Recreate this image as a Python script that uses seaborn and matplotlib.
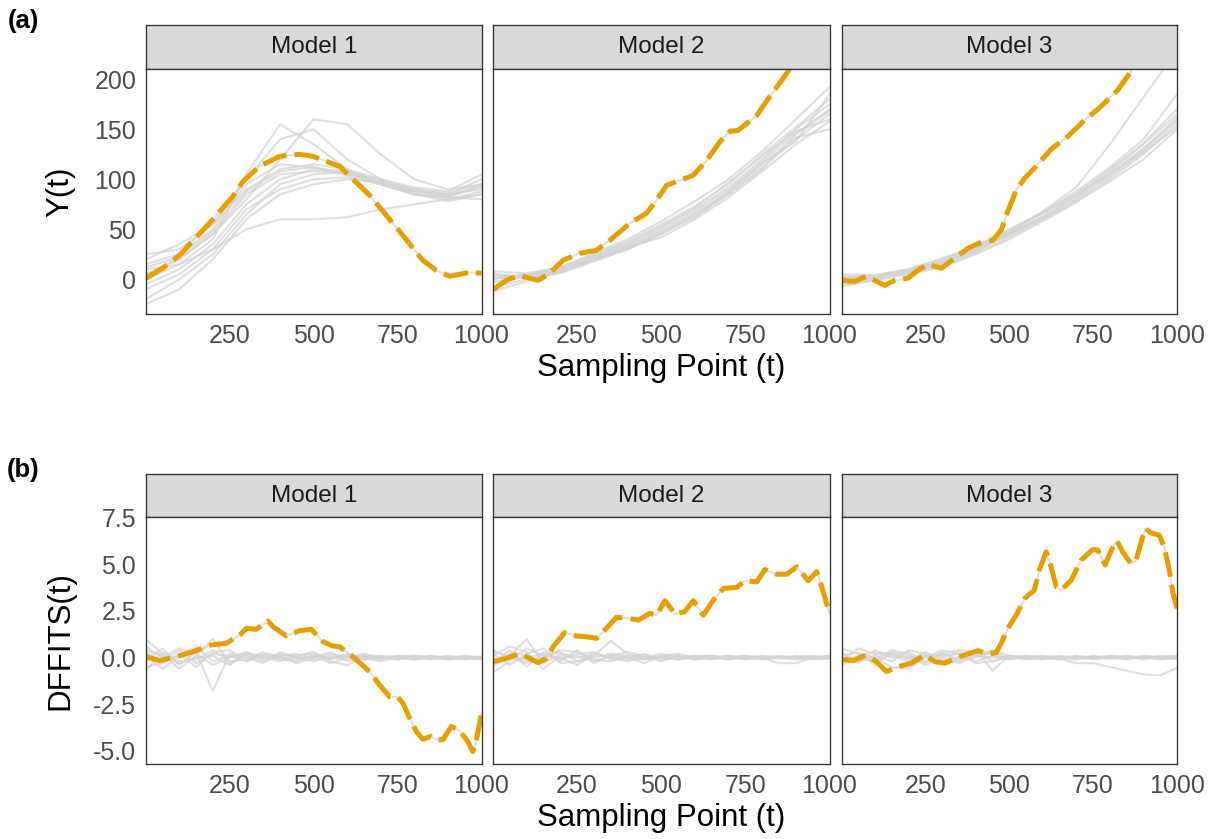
import numpy as np
import pandas as pd
import matplotlib
matplotlib.use("Agg")
import matplotlib.pyplot as plt
import seaborn as sns

# ---------------- data ----------------
models = ["Model 1", "Model 2", "Model 3"]
x_ticks = [250, 500, 750, 1000]
y_ticks_a = [0, 50, 100, 150, 200]
y_ticks_b = [-5.0, -2.5, 0.0, 2.5, 5.0, 7.5]

# grids for the grey reference curves
grid_a = [0, 100, 200, 300, 400, 500, 600, 700, 800, 900, 1000]
grid_b = [0, 50, 100, 150, 200, 250, 300, 350, 400, 450, 500,
          550, 600, 650, 700, 750, 800, 850, 900, 950, 1000]

# (a) Y(t) grey curves
a1_gray = [
    [5, 20, 45, 85, 105, 108, 106, 97, 88, 83, 92],
    [-5, 10, 35, 75, 100, 110, 108, 98, 86, 80, 88],
    [15, 25, 50, 95, 115, 112, 104, 95, 85, 82, 95],
    [-20, 0, 25, 65, 95, 105, 107, 100, 90, 85, 90],
    [25, 30, 55, 100, 140, 150, 120, 100, 88, 85, 100],
    [0, 15, 40, 105, 155, 135, 110, 95, 85, 78, 85],
    [10, 15, 30, 50, 60, 60, 62, 70, 75, 80, 85],
    [-25, -10, 20, 60, 85, 95, 100, 98, 90, 87, 95],
    [20, 35, 55, 90, 110, 115, 110, 100, 92, 88, 105],
    [5, 20, 45, 80, 120, 160, 155, 125, 100, 90, 95],
    [-10, 5, 30, 70, 90, 100, 102, 95, 85, 82, 80],
    [12, 22, 48, 88, 108, 112, 106, 96, 88, 84, 93],
]
a2_gray = [
    [2, 3, 9, 22, 34, 50, 68, 90, 118, 146, 170],
    [-8, 0, 6, 18, 30, 45, 62, 85, 112, 140, 165],
    [8, 6, 12, 25, 38, 55, 73, 95, 125, 152, 180],
    [5, 2, 8, 20, 32, 42, 60, 82, 108, 135, 158],
    [-3, 4, 10, 24, 36, 53, 70, 92, 120, 150, 175],
    [0, 5, 12, 26, 40, 58, 78, 100, 128, 160, 192],
    [6, 1, 7, 19, 30, 46, 65, 88, 115, 142, 150],
    [-12, -2, 8, 21, 33, 48, 66, 85, 110, 145, 168],
    [3, 4, 11, 23, 36, 52, 72, 97, 123, 148, 160],
    [1, 2, 9, 20, 31, 47, 63, 87, 116, 138, 185],
]
a3_gray = [
    [-2, 2, 8, 17, 29, 46, 63, 83, 106, 131, 160],
    [5, 4, 10, 20, 32, 49, 66, 86, 110, 136, 170],
    [-6, 0, 6, 14, 26, 42, 60, 80, 102, 127, 152],
    [2, 3, 7, 16, 30, 47, 68, 92, 135, 182, 229],
    [-4, 1, 9, 19, 31, 44, 60, 78, 98, 120, 150],
    [0, 3, 7, 15, 28, 45, 62, 84, 108, 135, 165],
    [3, 2, 9, 18, 27, 48, 66, 85, 105, 128, 158],
    [-7, -1, 5, 12, 25, 40, 58, 77, 100, 125, 155],
    [1, 4, 10, 21, 33, 50, 67, 88, 112, 140, 185],
    [-3, 2, 8, 17, 29, 46, 62, 81, 104, 130, 162],
]

# (a) highlighted curves
a1_t = [1, 50, 101, 195, 260, 290, 339, 399, 458, 498, 577, 667, 756, 825, 865, 905, 964, 1000]
a1_y = [1, 11, 24, 58, 83, 98, 113, 123, 125, 123, 113, 84, 48, 19, 9, 3, 7, 6]
a2_t = [1, 40, 79, 109, 134, 169, 208, 258, 307, 347, 407, 456, 486, 516, 556, 595,
        635, 675, 704, 729, 784, 823, 858, 883, 1000]
a2_y = [-10, -1, 4, 1, -1, 6, 19, 26, 29, 39, 56, 66, 79, 94, 99, 104,
        119, 138, 148, 149, 164, 183, 199, 211, 265]
a3_t = [1, 40, 74, 99, 129, 159, 198, 228, 258, 298, 337, 377, 417, 451, 476, 496,
        521, 546, 575, 625, 675, 724, 774, 823, 863, 1000]
a3_y = [-1, -2, 3, -1, -6, -1, 1, 9, 15, 11, 21, 31, 37, 39, 49, 68,
        89, 101, 111, 130, 143, 159, 173, 189, 208, 270]

# (b) DFFITS(t) grey curves
b1_gray = [
    [0.3, -0.2, 0.4, -0.3, 0.2, 0.1, -0.2, 0.1, 0.0, -0.1, 0.1, 0.0, -0.1, 0.05, 0.0, -0.05, 0.0, 0.05, 0.0, -0.05, 0.0],
    [-0.2, 0.5, -0.4, 0.3, -1.8, 0.2, 0.1, -0.2, 0.1, 0.2, -0.1, 0.0, 0.1, -0.1, 0.0, 0.1, 0.0, -0.1, 0.0, 0.05, 0.0],
    [1.0, 0.2, -0.6, 0.1, 1.0, -0.3, 0.2, 0.0, -0.2, 0.1, 0.3, -0.2, -0.4, 0.1, 0.0, -0.1, 0.1, 0.0, -0.1, 0.0, 0.05],
    [-0.5, -0.3, 0.2, -0.5, 0.3, 0.4, -0.2, 0.2, 0.1, -0.3, 0.0, 0.2, 0.1, -0.1, 0.1, 0.0, -0.1, 0.1, 0.0, -0.05, -0.1],
    [0.6, 0.0, 0.5, 0.2, -0.4, 0.0, 0.3, -0.1, 0.2, 0.0, -0.2, 0.1, 0.0, 0.1, -0.1, 0.1, 0.1, -0.05, 0.1, 0.0, 0.05],
    [-0.7, 0.3, -0.2, -0.1, 0.4, -0.2, -0.1, 0.3, -0.1, 0.1, 0.2, -0.1, 0.2, 0.0, -0.2, 0.05, -0.1, 0.0, -0.05, 0.1, 0.0],
    [0.1, -0.6, 0.1, 0.6, -0.2, 0.1, 0.0, -0.3, 0.3, 0.0, 0.0, 0.3, -0.2, 0.0, 0.1, -0.1, 0.05, 0.1, -0.1, 0.0, -0.05],
    [0.4, 0.1, -0.3, 0.0, 0.1, -0.4, 0.2, 0.1, -0.1, -0.2, 0.1, -0.3, 0.0, 0.2, 0.0, 0.05, -0.05, 0.0, 0.05, -0.1, 0.0],
]
b2_gray = [
    [-0.8, -0.2, 0.5, 0.1, 0.3, -0.2, 0.1, 0.9, 0.2, -0.1, 0.0, 0.1, -0.1, 0.0, 0.1, 0.0, -0.05, 0.05, 0.0, -0.05, 0.0],
    [0.3, 0.1, 1.0, -0.3, 0.2, 0.1, -0.2, 0.1, 0.0, -0.3, 0.1, -0.1, 0.0, 0.1, -0.1, 0.05, 0.0, -0.3, -0.3, 0.0, 0.05],
    [-0.3, 0.4, -0.5, 0.3, -0.1, 0.2, 0.3, -0.1, -0.1, 0.2, -0.1, 0.0, 0.1, -0.05, 0.0, 0.1, 0.0, 0.0, 0.05, 0.1, 0.0],
    [0.2, -0.4, 0.2, 0.5, -0.3, -0.2, 0.0, 0.2, 0.1, 0.0, 0.05, 0.1, -0.1, 0.0, 0.05, -0.05, 0.1, 0.0, -0.1, 0.0, 0.1],
    [-0.5, 0.2, -0.2, 0.0, 0.4, 0.3, -0.1, -0.2, 0.1, 0.1, 0.0, -0.1, 0.1, 0.1, 0.0, -0.1, 0.0, 0.1, 0.0, 0.05, -0.05],
    [0.1, 0.6, 0.3, -0.6, 0.1, 0.0, 0.2, 0.0, -0.2, 0.0, 0.2, 0.0, 0.0, -0.1, 0.1, 0.0, 0.05, -0.05, 0.1, 0.0, 0.0],
    [-0.1, -0.1, 0.0, 0.2, -0.2, 0.4, -0.3, 0.1, 0.3, 0.1, -0.2, 0.1, 0.05, 0.0, -0.1, 0.1, 0.0, 0.05, -0.05, 0.0, 0.1],
    [0.4, 0.0, -0.3, 0.1, 0.0, -0.4, 0.2, 0.0, 0.0, -0.1, 0.1, 0.2, 0.0, 0.05, 0.0, 0.0, -0.1, 0.0, 0.05, -0.1, -0.05],
]
b3_gray = [
    [0.5, 0.2, 0.0, -0.5, -0.6, 0.0, 0.2, 0.4, 0.3, -0.2, 0.1, 0.0, 0.05, -0.05, -0.3, -0.3, -0.5, -0.7, -0.9, -0.95, -0.55],
    [-0.2, 0.5, 0.2, 0.1, -0.2, 0.3, -0.1, 0.0, 0.4, -0.7, 0.1, 0.0, -0.1, 0.05, 0.0, -0.05, 0.1, 0.0, 0.0, 0.05, 0.0],
    [0.3, -0.3, 0.4, 0.0, 0.3, -0.2, 0.2, -0.1, 0.0, 0.3, 0.0, 0.1, 0.0, -0.1, 0.05, 0.0, -0.05, 0.05, 0.0, -0.05, 0.05],
    [-0.4, 0.0, -0.2, 0.2, -0.1, 0.0, 0.4, 0.2, -0.2, 0.1, -0.1, 0.05, 0.1, 0.0, -0.1, 0.05, 0.0, -0.1, 0.05, 0.0, -0.05],
    [0.1, 0.3, -0.4, 0.3, 0.1, -0.4, 0.0, 0.3, 0.1, 0.0, 0.05, -0.1, 0.0, 0.1, 0.0, 0.0, 0.1, 0.05, -0.1, 0.1, 0.0],
    [0.2, -0.2, 0.1, -0.2, 0.4, 0.2, -0.3, -0.2, 0.2, 0.2, -0.05, 0.0, 0.05, 0.0, 0.05, -0.1, 0.0, 0.0, 0.05, 0.0, 0.1],
    [-0.3, 0.1, 0.3, 0.2, 0.0, 0.1, 0.1, 0.2, -0.3, -0.2, 0.0, 0.1, -0.05, 0.05, -0.05, 0.1, -0.05, 0.1, 0.0, -0.1, -0.05],
    [0.0, -0.1, -0.1, 0.4, 0.2, -0.3, 0.3, -0.3, 0.1, 0.4, 0.1, -0.05, 0.0, -0.05, 0.1, 0.0, 0.05, -0.05, 0.1, 0.05, 0.1],
]

# (b) highlighted curves
b1_t = [1, 42, 91, 141, 195, 240, 280, 300, 329, 364, 379, 419, 458, 493, 528, 557, 577, 617,
        667, 696, 726, 751, 766, 786, 806, 825, 850, 865, 885, 910, 934, 959, 974, 982, 1000]
b1_y = [0.05, -0.16, 0.05, 0.32, 0.68, 0.77, 1.21, 1.57, 1.52, 1.96, 1.66, 1.16, 1.44, 1.52, 0.86, 0.62, 0.59, 0.05,
        -0.75, -1.46, -2.09, -2.12, -2.44, -3.24, -3.96, -4.37, -4.22, -4.40, -4.40, -3.69, -3.90, -4.49, -5.03, -4.67, -2.98]
b2_t = [1, 40, 79, 99, 134, 159, 179, 213, 248, 278, 308, 337, 367, 402, 432, 466, 486, 511,
        541, 570, 595, 625, 655, 685, 724, 749, 784, 808, 843, 873, 903, 937, 962, 977, 1000]
b2_y = [-0.21, -0.04, 0.23, 0.05, -0.27, -0.04, 0.59, 1.34, 1.16, 1.12, 1.03, 1.57, 2.16, 2.10, 2.01, 2.37, 2.28, 3.05,
        2.34, 2.46, 3.05, 2.28, 3.08, 3.71, 3.76, 4.12, 4.06, 4.72, 4.47, 4.47, 4.87, 4.12, 4.60, 3.80, 2.37]
b3_t = [1, 35, 74, 104, 134, 169, 208, 248, 278, 308, 347, 377, 407, 437, 461, 476, 496, 521, 546, 575, 590,
        610, 625, 640, 655, 685, 714, 749, 764, 786, 804, 821, 838, 863, 878, 905, 923, 947, 962, 977, 987, 1000]
b3_y = [-0.09, -0.16, 0.14, -0.21, -0.75, -0.48, -0.30, 0.14, -0.21, -0.30, 0.02, 0.20, 0.37, 0.20, 0.27, 0.77, 1.57,
        2.28, 3.17, 3.62, 4.69, 5.67, 4.87, 3.80, 3.62, 4.15, 5.22, 5.79, 5.76, 4.96, 5.76, 6.26, 5.67, 5.04, 5.22,
        6.92, 6.68, 6.56, 5.94, 4.69, 3.53, 2.64]

# ---------------- styling ----------------
sns.set_theme(style="white")
plt.rcParams["font.family"] = ["Liberation Sans", "DejaVu Sans"]

W, H = 1215, 839
fig = plt.figure(figsize=(W / 100, H / 100), dpi=100)
fig.patch.set_facecolor("white")

GRAY = "#d3d3d3"
ORANGE = "#E69F00"
EDGE = "#333333"
TICKC = "#4D4D4D"


def ax_at(x0, y0, x1, y1):
    return fig.add_axes([x0 / W, 1 - y1 / H, (x1 - x0) / W, (y1 - y0) / H])


cols_x = [(146, 481.5), (493.3, 829.5), (841.7, 1177)]
rows = [
    dict(strip=(25, 69), panel=(69, 314), grid=grid_a,
         gray=[a1_gray, a2_gray, a3_gray],
         hl=[(a1_t, a1_y), (a2_t, a2_y), (a3_t, a3_y)],
         ylim=(-34.7, 210.3), yticks=y_ticks_a,
         ylabels=[str(v) for v in y_ticks_a],
         ylabel="Y(t)", tag="(a)", tag_y=21, xlab_y=368),
    dict(strip=(474.3, 517.3), panel=(517.3, 764), grid=grid_b,
         gray=[b1_gray, b2_gray, b3_gray],
         hl=[(b1_t, b1_y), (b2_t, b2_y), (b3_t, b3_y)],
         ylim=(-5.70, 7.52), yticks=y_ticks_b,
         ylabels=[f"{v:.1f}" for v in y_ticks_b],
         ylabel="DFFITS(t)", tag="(b)", tag_y=470, xlab_y=818),
]

for r in rows:
    for j, (x0, x1) in enumerate(cols_x):
        # strip
        sax = ax_at(x0, r["strip"][0], x1, r["strip"][1])
        sax.set_facecolor("#D9D9D9")
        sax.set_xticks([])
        sax.set_yticks([])
        for s in sax.spines.values():
            s.set_color(EDGE)
            s.set_linewidth(0.95)
        sax.text(0.5, 0.5, models[j], transform=sax.transAxes, ha="center",
                 va="center", fontsize=17.5, color="#1A1A1A")

        # panel
        ax = ax_at(x0, r["panel"][0], x1, r["panel"][1])
        ax.set_facecolor("white")
        curves = r["gray"][j]
        grid = r["grid"]
        df = pd.DataFrame({
            "t": np.tile(grid, len(curves)),
            "v": np.concatenate([np.asarray(c, float) for c in curves]),
            "curve": np.repeat(np.arange(len(curves)), len(grid)),
        })
        sns.lineplot(data=df, x="t", y="v", units="curve", estimator=None,
                     color=GRAY, alpha=0.72, linewidth=1.5, ax=ax, legend=False)
        ht, hy = r["hl"][j]
        hdf = pd.DataFrame({"t": ht, "v": hy})
        sns.lineplot(data=hdf, x="t", y="v", color=GRAY, alpha=0.72,
                     linewidth=1.5, ax=ax, legend=False)
        sns.lineplot(data=hdf, x="t", y="v", color=ORANGE, linewidth=3.6,
                     linestyle=(0, (5, 1.6)), ax=ax, legend=False)

        ax.set_xlim(1, 1000)
        ax.set_ylim(*r["ylim"])
        ax.set_xticks(x_ticks)
        ax.set_xticklabels([str(v) for v in x_ticks])
        ax.set_xlabel("")
        ax.set_ylabel("")
        ax.tick_params(axis="both", direction="out", length=4.5, width=0.95,
                       color=EDGE, labelcolor=TICKC, labelsize=18, pad=2.5)
        if j == 0:
            ax.set_yticks(r["yticks"])
            ax.set_yticklabels(r["ylabels"])
        else:
            ax.set_yticks([])
        for s in ax.spines.values():
            s.set_color(EDGE)
            s.set_linewidth(0.95)

    # axis titles and tags
    pc = (r["panel"][0] + r["panel"][1]) / 2
    fig.text(60 / W, 1 - pc / H, r["ylabel"], rotation=90, ha="center",
             va="center", fontsize=22.5, color="black")
    fig.text(661.5 / W, 1 - r["xlab_y"] / H, "Sampling Point (t)", ha="center",
             va="center", fontsize=22.5, color="black")
    fig.text(23 / W, 1 - r["tag_y"] / H, r["tag"], ha="center", va="center",
             fontsize=18.5, fontweight="bold", color="black")

fig.savefig("out.png", dpi=100, facecolor="white")
